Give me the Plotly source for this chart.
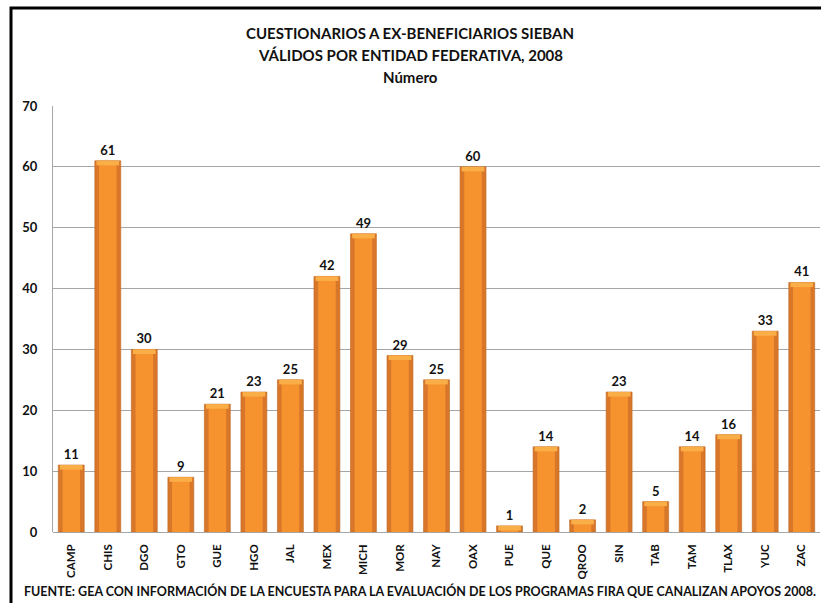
import plotly.graph_objects as go

states = ["CAMP", "CHIS", "DGO", "GTO", "GUE", "HGO", "JAL", "MEX", "MICH", "MOR", "NAY",
          "OAX", "PUE", "QUE", "QROO", "SIN", "TAB", "TAM", "TLAX", "YUC", "ZAC"]
counts = [11, 61, 30, 9, 21, 23, 25, 42, 49, 29, 25, 60, 1, 14, 2, 23, 5, 14, 16, 33, 41]
y_ticks = [0, 10, 20, 30, 40, 50, 60, 70]

title_lines = ["CUESTIONARIOS A EX-BENEFICIARIOS SIEBAN",
               "VÁLIDOS POR ENTIDAD FEDERATIVA, 2008",
               "Número"]
footer = "FUENTE: GEA CON INFORMACIÓN DE LA ENCUESTA PARA LA EVALUACIÓN DE LOS PROGRAMAS FIRA QUE CANALIZAN APOYOS 2008."

FONT = "Lato"
INK = "#111111"
cap_h = 0.75
cap_base = [max(v - cap_h, 0) for v in counts]
cap_len = [min(cap_h, v) for v in counts]

fig = go.Figure()
# base bar (darker edges)
fig.add_trace(go.Bar(
    x=states, y=counts, width=0.71,
    marker=dict(color="#D8772A", line=dict(color="#C0661E", width=0.6)),
    text=[str(v) for v in counts], textposition="outside",
    textfont=dict(family=FONT, size=13, color=INK, weight="bold"),
    cliponaxis=False, hoverinfo="skip", showlegend=False))
# lighter center for cylinder shading
fig.add_trace(go.Bar(
    x=states, y=counts, width=0.48,
    marker=dict(color="#F6932F", line=dict(width=0)),
    hoverinfo="skip", showlegend=False))
# top highlight cap
fig.add_trace(go.Bar(
    x=states, y=cap_len, base=cap_base, width=0.62,
    marker=dict(color="#FAAE48", line=dict(width=0)),
    hoverinfo="skip", showlegend=False))

fig.update_layout(
    width=821, height=603,
    barmode="overlay",
    paper_bgcolor="white", plot_bgcolor="white",
    margin=dict(l=53, r=1, t=106, b=71),
    font=dict(family=FONT, color=INK),
    xaxis=dict(tickangle=-90, tickfont=dict(family=FONT, size=11.5, color=INK, weight="bold"),
               showline=False, showgrid=False, ticks="", ticklabelstandoff=9,
               automargin=False),
    yaxis=dict(range=[0, 70], tickvals=y_ticks, showgrid=True, gridcolor="#A6A6A6",
               gridwidth=1, showline=True, linecolor="#A6A6A6", linewidth=1,
               zeroline=True, zerolinecolor="#A6A6A6", zerolinewidth=1,
               tickfont=dict(family=FONT, size=13, color=INK, weight="bold"), ticks="",
               ticklabelstandoff=12, automargin=False),
)

ys = [33, 55, 77]
for line, yp in zip(title_lines, ys):
    fig.add_annotation(text=line, xref="paper", yref="paper",
                       x=(410 - 53) / 767, y=(532 - yp) / 426, showarrow=False,
                       xanchor="center", yanchor="middle",
                       font=dict(family=FONT, size=15, color=INK, weight="bold"))

fig.add_annotation(text=footer, xref="paper", yref="paper",
                   x=(420 - 53) / 767, y=(532 - 591) / 426, showarrow=False,
                   xanchor="center", yanchor="middle",
                   font=dict(family=FONT, size=12.5, color=INK, weight="bold"))

# outer frame
fig.add_shape(type="rect", xref="paper", yref="paper",
              x0=(11 - 53) / 767, x1=(830 - 53) / 767,
              y0=(532 - 620) / 426, y1=(532 - 8) / 426,
              line=dict(color="black", width=3), fillcolor="rgba(0,0,0,0)", layer="below")

fig.write_html("out.html", config={"displayModeBar": False},
               post_script="document.body.style.margin='0';")
